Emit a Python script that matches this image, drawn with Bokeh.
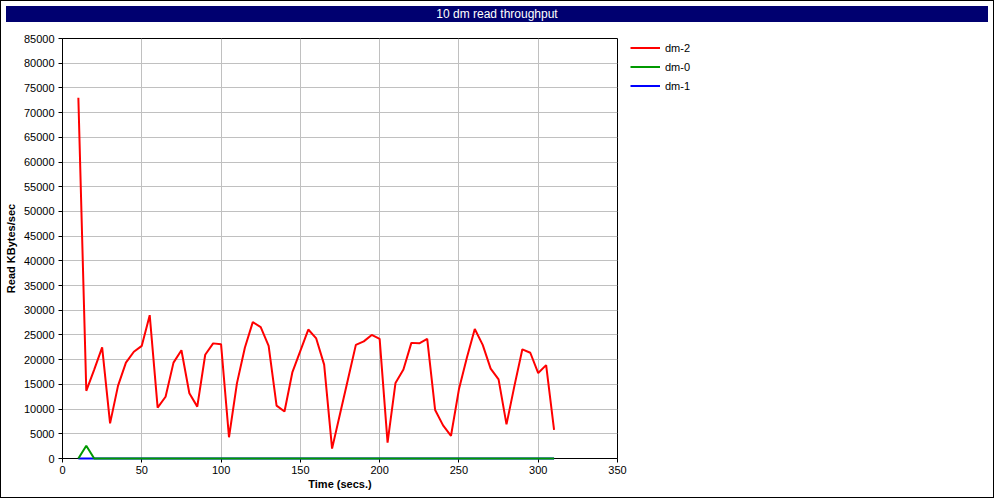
from bokeh.plotting import figure
from bokeh.models import Div, Legend, LegendItem, SingleIntervalTicker, Range1d, BasicTickFormatter
from bokeh.layouts import column, row
from bokeh.embed import file_html
from bokeh.resources import INLINE

title_text = "10 dm read throughput"
x_label = "Time (secs.)"
y_label = "Read KBytes/sec"

times = [10, 15, 20, 25, 30, 35, 40, 45, 50, 55, 60, 65, 70, 75, 80, 85, 90, 95, 100,
         105, 110, 115, 120, 125, 130, 135, 140, 145, 150, 155, 160, 165, 170, 175, 180,
         185, 190, 195, 200, 205, 210, 215, 220, 225, 230, 235, 240, 245, 250, 255, 260,
         265, 270, 275, 280, 285, 290, 295, 300, 305, 310]

dm2 = [73000, 13700, 18000, 22500, 7100, 14700, 19400, 21600, 22800, 29000,
       10300, 12500, 19400, 21900, 13200, 10500, 21000, 23300, 23100, 4300,
       15200, 22400, 27600, 26600, 22800, 10700, 9500, 17500, 21800, 26100,
       24300, 19000, 2000, 9000, 16000, 23000, 23700, 25000, 24200, 3200,
       15300, 18000, 23400, 23300, 24200, 9800, 6700, 4600, 14000, 20400,
       26200, 23000, 18200, 16000, 6900, 14700, 22100, 21400, 17300, 18900, 5800]

dm0 = [0, 2600, 0, 0, 0, 0, 0, 0, 0, 0,
       0, 0, 0, 0, 0, 0, 0, 0, 0, 0,
       0, 0, 0, 0, 0, 0, 0, 0, 0, 0,
       0, 0, 0, 0, 0, 0, 0, 0, 0, 0,
       0, 0, 0, 0, 0, 0, 0, 0, 0, 0,
       0, 0, 0, 0, 0, 0, 0, 0, 0, 0, 0]

dm1 = [0, 0, 0, 0, 0, 0, 0, 0, 0, 0,
       0, 0, 0, 0, 0, 0, 0, 0, 0, 0,
       0, 0, 0, 0, 0, 0, 0, 0, 0, 0,
       0, 0, 0, 0, 0, 0, 0, 0, 0, 0,
       0, 0, 0, 0, 0, 0, 0, 0, 0, 0,
       0, 0, 0, 0, 0, 0, 0, 0, 0, 0, 0]

series_names = ["dm-2", "dm-0", "dm-1"]
series_colors = ["#ff0000", "#009900", "#0000ff"]

FONT = "Liberation Sans"

p = figure(width=628, height=470, output_backend="svg", toolbar_location=None,
           x_range=Range1d(0, 350), y_range=Range1d(0, 85000),
           min_border_left=57, min_border_right=12, min_border_top=11, min_border_bottom=39)
p.outline_line_color = "black"
p.outline_line_width = 1
p.background_fill_color = "white"
p.border_fill_color = "white"

r1 = p.line(times, dm1, line_color=series_colors[2], line_width=2, level="overlay")
r0 = p.line(times, dm0, line_color=series_colors[1], line_width=2, level="overlay")
r2 = p.line(times, dm2, line_color=series_colors[0], line_width=2)

p.xaxis.ticker = SingleIntervalTicker(interval=50)
p.yaxis.ticker = SingleIntervalTicker(interval=5000)
p.yaxis.formatter = BasicTickFormatter(use_scientific=False)
for ax in (p.xaxis, p.yaxis):
    ax.minor_tick_line_color = None
    ax.major_tick_out = 4
    ax.major_tick_in = 0
    ax.major_label_standoff = 3
    ax.major_label_text_font = FONT
    ax.major_label_text_font_size = "11px"
    ax.major_label_text_color = "black"
    ax.axis_label_text_font = FONT
    ax.axis_label_text_font_size = "11px"
    ax.axis_label_text_font_style = "bold"
    ax.axis_label_text_color = "black"
    ax.axis_line_color = "black"
    ax.major_tick_line_color = "black"
p.xaxis.axis_label = x_label
p.yaxis.axis_label = y_label
p.xaxis.axis_label_standoff = 1
p.yaxis.axis_label_standoff = 4
p.yaxis.major_label_standoff = 4

p.xgrid.grid_line_color = "#c0c0c0"
p.ygrid.grid_line_color = "#c0c0c0"
p.xgrid.grid_line_width = 1
p.ygrid.grid_line_width = 1

# legend panel (separate figure to the right of the plot); its lines fall
# outside its own ranges so only the legend swatches show
lp = figure(width=354, height=470, output_backend="svg", toolbar_location=None,
            x_range=Range1d(-2, -1), y_range=Range1d(-2, -1),
            min_border_left=1, min_border_right=0, min_border_top=10, min_border_bottom=0)
lp.axis.visible = False
lp.grid.visible = False
lp.outline_line_color = None
lp.border_fill_color = "white"
lr2 = lp.line(times, dm2, line_color=series_colors[0], line_width=2)
lr0 = lp.line(times, dm0, line_color=series_colors[1], line_width=2)
lr1 = lp.line(times, dm1, line_color=series_colors[2], line_width=2)

legend = Legend(items=[LegendItem(label=series_names[0], renderers=[lr2]),
                       LegendItem(label=series_names[1], renderers=[lr0]),
                       LegendItem(label=series_names[2], renderers=[lr1])],
                location="top_left", padding=0, margin=0, spacing=0,
                glyph_width=30, glyph_height=19, label_height=19, label_standoff=5,
                label_text_font=FONT, label_text_font_size="11px",
                label_text_color="black",
                border_line_color=None, background_fill_alpha=0)
lp.add_layout(legend, "center")

title = Div(text=title_text, width=982, height=16,
            styles={"background-color": "#000070", "color": "white",
                    "text-align": "center", "font-family": FONT,
                    "font-size": "12px", "line-height": "16px"})

layout = column(title, row(p, lp, spacing=0), spacing=0,
                styles={"border": "1px solid black"})

open("out.html", "w").write(file_html(layout, INLINE))
